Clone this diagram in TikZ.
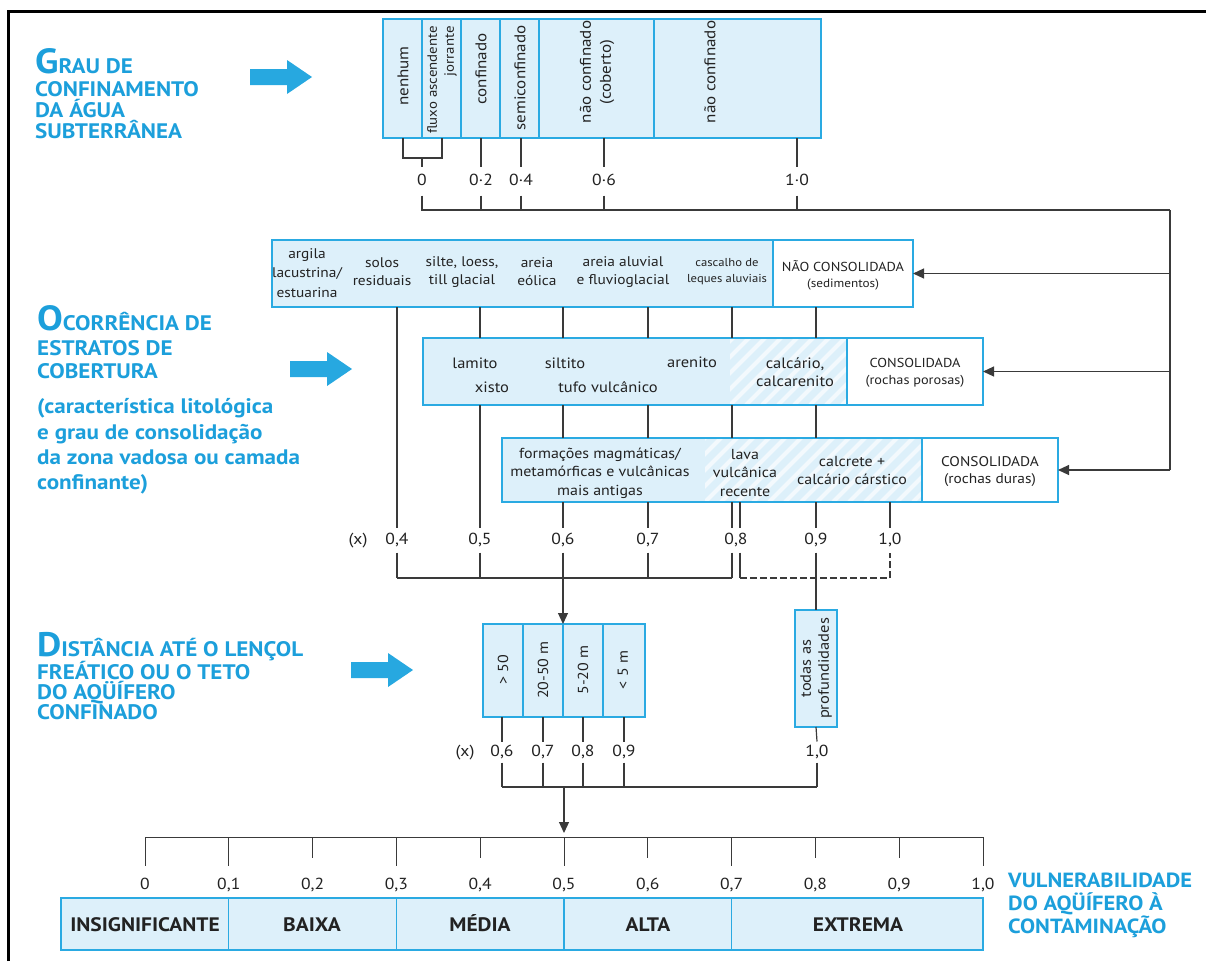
\documentclass[tikz,border=0pt]{standalone}
\usepackage{fontspec}
\setmainfont[FakeStretch=1.1]{PT Sans}
\usetikzlibrary{arrows.meta}
\definecolor{lightB}{HTML}{DDF0FA}
\definecolor{cyanB}{HTML}{2AAAE2}
\definecolor{headC}{HTML}{1C9FDB}
\definecolor{arrowC}{HTML}{27A8E0}
\definecolor{lineC}{HTML}{3A3A3A}
\definecolor{txt}{HTML}{222222}
\newcommand\myarrow[1]{\fill[arrowC] (#1) ++(-62,-8) -- ++(37,0) -- ++(0,-9) -- ++(25,17) -- ++(-25,17) -- ++(0,-9) -- ++(-37,0) -- cycle;}
\newcommand\myhatch[4]{\begin{scope}\clip (#1,#2) rectangle (#3,#4);
\foreach \k in {-80,-64,...,240} \draw[white, line width=4pt, opacity=0.65] (#1+\k,#4) -- ++(80,-80);
\end{scope}}
\begin{document}
\begin{tikzpicture}[x=1pt,y=-1pt,
 bx/.style={draw=cyanB, line width=2.6pt, inner sep=0pt, outer sep=0pt},
 dv/.style={draw=cyanB, line width=1.2pt},
 ln/.style={draw=lineC, line width=1.2pt},
 dln/.style={ln, dash pattern=on 7pt off 3pt},
 tip/.style={-{Triangle[length=11pt,width=10pt]}},
 lbl/.style={font=\fontsize{14}{18}\selectfont, text=txt, inner sep=0pt, align=center},
 tlbl/.style={lbl, rotate=90, font=\fontsize{15.5}{18}\selectfont},
 slbl/.style={lbl, font=\fontsize{11.5}{16}\selectfont},
 num/.style={font=\fontsize{16}{18}\selectfont, text=txt, inner sep=0pt, text height=11pt, text depth=2pt},
 numA/.style={num, outer sep=8pt},
 numB/.style={num, outer sep=6pt},
 numC/.style={num, outer sep=4pt},
 head/.style={font=\bfseries\fontsize{21}{22}\selectfont, text=headC, inner sep=0pt, anchor=base west, text depth=0pt},
 vhead/.style={font=\bfseries\fontsize{20.5}{21}\selectfont, text=headC, inner sep=0pt, anchor=base west, text depth=0pt},
 cat/.style={font=\bfseries\fontsize{19.5}{20}\selectfont, text=txt, inner sep=0pt, text height=14pt, text depth=0pt},
]
\useasboundingbox (0,0) rectangle (1206,961);
\draw[black, line width=3pt] (8,961) -- (8,11) -- (1206,11);

% ---------- headings ----------
\node[head] (h1a) at (35,73) {{\fontsize{35}{35}\selectfont G}RAU DE};
\node[head] (h1b) at (35,96) {CONFINAMENTO};
\node[head] (h1c) at (35,117) {DA ÁGUA};
\node[head] (h1d) at (35,138) {SUBTERRÂNEA};
\node[head] (h2a) at (37,330) {{\fontsize{35}{35}\selectfont O}CORRÊNCIA DE};
\node[head] (h2b) at (37,355) {ESTRATOS DE};
\node[head] (h2c) at (37,378) {COBERTURA};
\node[head] (h2d) at (37,413) {(característica litológica};
\node[head] (h2e) at (37,439) {e grau de consolidação};
\node[head] (h2f) at (37,464) {da zona vadosa ou camada};
\node[head] (h2g) at (37,489) {confinante)};
\node[head] (h3a) at (37,656) {{\fontsize{34}{34}\selectfont D}ISTÂNCIA ATÉ O LENÇOL};
\node[head] (h3b) at (37,679) {FREÁTICO OU O TETO};
\node[head] (h3c) at (37,699) {DO AQÜÍFERO};
\node[head] (h3d) at (37,719) {CONFINADO};
\node[vhead] (h4a) at (1008,887) {VULNERABILIDADE};
\node[vhead] (h4b) at (1008,910) {DO AQÜÍFERO À};
\node[vhead] (h4c) at (1008,933) {CONTAMINAÇÃO};

\myarrow{312,77}
\myarrow{352,369}
\myarrow{413,670}

% ---------- top box ----------
\fill[lightB] (383,19) rectangle (821,138);
\node[bx, minimum width=438pt, minimum height=119pt] (gc) at (602,78.5) {};
\foreach \x in {422,461,500,539,654} \draw[dv] (\x,19) -- (\x,138);
\node[tlbl] (g1) at (403,76) {nenhum};
\node[tlbl, align=right, font=\fontsize{13.5}{17}\selectfont] (g2) at (442,80) {fluxo ascendente\\jorrante};
\node[tlbl] (g3) at (481,69) {confinado};
\node[tlbl] (g4) at (520,78) {semiconfinado};
\node[tlbl, font=\fontsize{15.5}{20}\selectfont] (g5) at (597,72) {não confinado\\(coberto)};
\node[tlbl] (g6) at (710,72) {não confinado};

\node[numA] (v0) at (422,181) {0};
\node[numA] (v02) at (481,181) {0·2};
\node[numA] (v04) at (521,181) {0·4};
\node[numA] (v06) at (604,181) {0·6};
\node[numA] (v10) at (797,181) {1·0};
\coordinate (rc) at (1170,210);
\coordinate (bk) at (422,158);
\draw[ln] (gc.south -| g1) |- (bk) -| (gc.south -| g2);
\draw[ln] (bk) -- (v0.north);
\draw[ln] (v0.south) -- (v0 |- rc) -- (rc);
\foreach \n in {v02,v04,v06,v10} {\draw[ln] (gc.south -| \n) -- (\n.north); \draw[ln] (\n.south) -- (\n |- rc);}

% ---------- box 1 ----------
\fill[lightB] (272,240) rectangle (773,307);
\node[bx, minimum width=641pt, minimum height=67pt] (b1) at (592.5,273.5) {};
\draw[dv] (773,240) -- (773,307);
\node[lbl, font=\fontsize{14}{19.5}\selectfont] (c1) at (307,273) {argila\\lacustrina/\\estuarina};
\node[lbl] (c2) at (382,272) {solos\\residuais};
\node[lbl] (c3) at (462,272) {silte, loess,\\till glacial};
\node[lbl] (c4) at (537,272) {areia\\eólica};
\node[lbl] (c5) at (623,272) {areia aluvial\\e fluvioglacial};
\node[slbl] (c6) at (727,272) {cascalho de\\leques aluviais};
\node[lbl, font=\fontsize{13}{16}\selectfont] (c7) at (843,275) {NÃO CONSOLIDADA\\{\fontsize{12}{14}\selectfont (sedimentos)}};

% ---------- box 2 ----------
\fill[lightB] (423,338) rectangle (847,405);
\myhatch{730}{338}{847}{405}
\node[bx, minimum width=560pt, minimum height=67pt] (b2) at (703,371.5) {};
\draw[dv] (847,338) -- (847,405);
\node[lbl, font=\fontsize{15}{18}\selectfont] (p1) at (475,363) {lamito};
\node[lbl, font=\fontsize{15}{18}\selectfont] (p2) at (492,387) {xisto};
\node[lbl, font=\fontsize{15}{18}\selectfont] (p3) at (565,363) {siltito};
\node[lbl, font=\fontsize{15}{18}\selectfont] (p4) at (608,387) {tufo vulcânico};
\node[lbl, font=\fontsize{15}{18}\selectfont] (p5) at (692,362) {arenito};
\node[lbl, font=\fontsize{15}{18}\selectfont] (p6) at (795,372) {calcário,\\calcarenito};
\node[lbl, font=\fontsize{13}{17}\selectfont] (p7) at (915,373) {CONSOLIDADA\\(rochas porosas)};

% ---------- box 3 ----------
\fill[lightB] (502,438) rectangle (922,502);
\myhatch{705}{438}{922}{502}
\node[bx, minimum width=556pt, minimum height=64pt] (b3) at (780,470) {};
\draw[dv] (922,438) -- (922,502);
\node[lbl, font=\fontsize{14.5}{18.5}\selectfont] (q1) at (600,473) {formações magmáticas/\\metamórficas e vulcânicas\\mais antigas};
\node[lbl, font=\fontsize{14.5}{18.5}\selectfont] (q2) at (745,473) {lava\\vulcânica\\recente};
\node[lbl, font=\fontsize{14.5}{18}\selectfont] (q3) at (852,471) {calcrete +\\calcário cárstico};
\node[lbl, font=\fontsize{14}{17}\selectfont] (q4) at (990,472) {CONSOLIDADA\\(rochas duras)};

% right feed
\draw[ln] (rc) -- (rc |- b3.east);
\foreach \b in {b1,b2,b3} \draw[ln, tip] (rc |- \b.east) -- (\b.east);

% ---------- row 2 values ----------
\node[numB] (x1) at (358,540) {(x)};
\node[numB] (r4) at (397,540) {0,4};
\node[numB] (r5) at (480,540) {0,5};
\node[numB] (r6) at (563,540) {0,6};
\node[numB] (r7) at (648,540) {0,7};
\node[numB] (r8) at (736,540) {0,8};
\node[numB] (r9) at (816,540) {0,9};
\node[numB] (r10) at (890,540) {1,0};
\coordinate (hj) at (397,578);
\coordinate (e8) at (732,540);
\coordinate (e8b) at (740,540);

\draw[ln] (b1.south -| r4) -- (r4.north);
\draw[ln] (r4.south) -- (r4 |- hj);
\draw[ln] (b1.south -| r5) -- (b2.north -| r5);
\draw[ln] (b2.south -| r5) -- (r5.north);
\draw[ln] (r5.south) -- (r5 |- hj);
\foreach \n in {r6,r7,r9,e8} {
  \draw[ln] (b1.south -| \n) -- (b2.north -| \n);
  \draw[ln] (b2.south -| \n) -- (b3.north -| \n);
}
\foreach \n in {r6,r7,r9,r10} \draw[ln] (b3.south -| \n) -- (\n.north);
\draw[ln] (b3.south -| e8) -- (e8 |- r8.north);
\draw[ln] (b3.south -| e8b) -- (e8b |- r8.north);
\draw[ln] (r7.south) -- (r7 |- hj);
\draw[ln] (e8 |- r8.south) -- (e8 |- hj);
\draw[ln] (e8b |- r8.south) -- (e8b |- hj);
\draw[ln] (r4 |- hj) -- (e8 |- hj);
\draw[dln] (e8b |- hj) -- (r10 |- hj) -- (r10.south);

% ---------- box 4 ----------
\fill[lightB] (483,624) rectangle (645,717);
\node[bx, minimum width=162pt, minimum height=93pt] (b4) at (564,670.5) {};
\foreach \x in {523,563,603} \draw[dv] (\x,624) -- (\x,717);
\node[lbl, rotate=90, font=\fontsize{14.5}{18}\selectfont] (d1) at (503,670) {> 50};
\node[lbl, rotate=90, font=\fontsize{14.5}{18}\selectfont] (d2) at (543,670) {20-50 m};
\node[lbl, rotate=90, font=\fontsize{14.5}{18}\selectfont] (d3) at (583,670) {5-20 m};
\node[lbl, rotate=90, font=\fontsize{14.5}{18}\selectfont] (d4) at (623,670) {< 5 m};

\node[bx, fill=lightB, minimum width=42pt, minimum height=117pt] (tp) at (816,668.5) {};
\node[lbl, rotate=90, font=\fontsize{15}{18}\selectfont] (tpt) at (816,668.5) {todas as\\profundidades};

\draw[ln, tip] (r6.south) -- (r6.south |- b4.north);
\draw[ln] (r9.south) -- (tp.north);

% ---------- row 3 values ----------
\node[numC] (x2) at (465,752) {(x)};
\node[numC] (s6) at (502,752) {0,6};
\node[numC] (s7) at (543,752) {0,7};
\node[numC] (s8) at (583,752) {0,8};
\node[numC] (s9) at (624,752) {0,9};
\node[numC] (s10) at (817,752) {1,0};
\coordinate (hk) at (502,787);
\foreach \n in {s6,s7,s8,s9} {\draw[ln] (b4.south -| \n) -- (\n.north); \draw[ln] (\n.south) -- (\n |- hk);}
\draw[ln] (tp.south) -- (s10.north);
\draw[ln] (s10.south) -- (s10 |- hk);
\draw[ln] (s6 |- hk) -- (s10 |- hk);

% ---------- axis ----------
\node[num] (a0) at (145,885) {0};
\node[num] (a1) at (228.8,885) {0,1};
\node[num] (a2) at (312.6,885) {0,2};
\node[num] (a3) at (396.4,885) {0,3};
\node[num] (a4) at (480.2,885) {0,4};
\node[num] (a5) at (564,885) {0,5};
\node[num] (a6) at (647.8,885) {0,6};
\node[num] (a7) at (731.6,885) {0,7};
\node[num] (a8) at (815.4,885) {0,8};
\node[num] (a9) at (899.2,885) {0,9};
\node[num] (a10) at (983,885) {1,0};
\coordinate (ax) at (145,837);
\coordinate (axt) at (145,833);
\draw[ln, line width=1pt] (a0 |- ax) -- (a10 |- ax);
\foreach \n in {a0,a1,a3,a5,a7,a10} \draw[ln, line width=1pt] (\n |- ax) -- ++(0,29);
\foreach \n in {a2,a4,a6,a8,a9} \draw[ln, line width=1pt] (\n |- ax) -- ++(0,21);
\draw[ln, tip] (a5 |- hk) -- (a5 |- axt);

% ---------- vulnerability box ----------
\fill[lightB] (61,898) rectangle (983,950);
\node[bx, minimum width=922pt, minimum height=52pt] (vb) at (522,924) {};
\foreach \x in {228.8,396.4,564,731.6} \draw[dv] (\x,898) -- (\x,950);
\node[cat] (k1) at (145,924) {INSIGNIFICANTE};
\node[cat] (k2) at (312,924) {BAIXA};
\node[cat] (k3) at (480,924) {MÉDIA};
\node[cat] (k4) at (648,924) {ALTA};
\node[cat] (k5) at (858,924) {EXTREMA};
\end{tikzpicture}
\end{document}
